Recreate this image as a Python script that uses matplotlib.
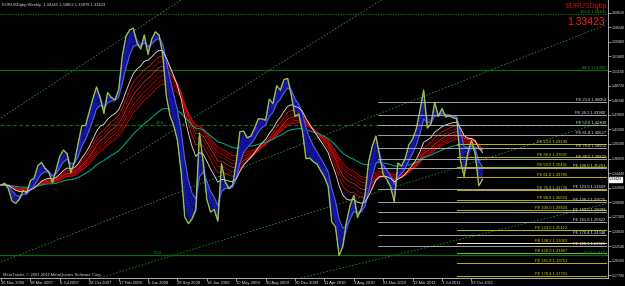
"""EURUSD weekly chart (MetaTrader look): price, GMMA-style ribbons, Fibo levels."""

import matplotlib
matplotlib.use("Agg")
import matplotlib.pyplot as plt
import numpy as np
import pandas as pd

plt.rcParams["font.family"] = ["Liberation Sans", "DejaVu Sans"]

# ---- data -----------------------------------------------------------------
# bar index = weeks since 26 Nov 2006, sampled every second week
bar_idx = np.arange(0, 264, 2)
close = [
    1.3250, 1.3280, 1.3190, 1.2990, 1.2950, 1.3020, 1.3160, 1.3120, 1.3320, 1.3360,
    1.3560, 1.3620, 1.3520, 1.3460, 1.3290, 1.3500, 1.3720, 1.3820, 1.3760, 1.3450,
    1.3630, 1.3930, 1.4220, 1.4220, 1.4440, 1.4660, 1.4850, 1.4670, 1.4420, 1.4760,
    1.4680, 1.4640, 1.4800, 1.5350, 1.5680, 1.5780, 1.5810, 1.5570, 1.5470, 1.5700,
    1.5380, 1.5630, 1.5750, 1.5700, 1.5380, 1.4700, 1.4380, 1.4220, 1.3980, 1.3470,
    1.2730, 1.2620, 1.2700, 1.2850, 1.4100, 1.3630, 1.3020, 1.2810, 1.2850, 1.2660,
    1.3600, 1.3300, 1.3190, 1.3250, 1.3620, 1.4120, 1.4130, 1.4020, 1.4050, 1.4180,
    1.4330, 1.4330, 1.4310, 1.4650, 1.4580, 1.4870, 1.4800, 1.4970, 1.4990, 1.4710,
    1.4370, 1.4410, 1.4130, 1.3680, 1.3690, 1.3630, 1.3590, 1.3480, 1.3380, 1.3230,
    1.2650, 1.2570, 1.2100, 1.2250, 1.2650, 1.2920, 1.3080, 1.2720, 1.2860, 1.3070,
    1.3620, 1.3880, 1.4050, 1.3730, 1.3420, 1.3340, 1.3220, 1.2980, 1.3610, 1.3560,
    1.3690, 1.3910, 1.4000, 1.4170, 1.4470, 1.4800, 1.4180, 1.4250, 1.4600, 1.4370,
    1.4500, 1.4360, 1.4380, 1.4350, 1.4330, 1.3650, 1.3390, 1.3770, 1.3980, 1.3760,
    1.3240, 1.3342,
]
last_price = 1.33423

date_ticks = np.arange(0, 257, 16)
date_labels = [
    "26 Nov 2006", "18 Mar 2007", "8 Jul 2007", "28 Oct 2007", "17 Feb 2008",
    "8 Jun 2008", "28 Sep 2008", "18 Jan 2009", "10 May 2009", "30 Aug 2009",
    "20 Dec 2009", "11 Apr 2010", "1 Aug 2010", "21 Nov 2010", "13 Mar 2011",
    "3 Jul 2011", "23 Oct 2011",
]
price_ticks = np.round(1.1778 + 0.0238 * np.arange(19), 4)

# EMA spans in weeks
short_spans = [3, 4, 5, 6, 8, 10]
long_spans = [30, 35, 40, 45, 50, 55, 60]
mid_span = 24
slow_span = 100

# Fibonacci expansion, grey (starts ~bar 205) and yellow (starts ~bar 248)
fe_grey_levels = ["23.6", "38.2", "50.0", "61.8", "76.4", "88.6", "100.0",
                  "123.6", "138.2", "150.0", "161.8", "176.4", "188.6"]
fe_grey_prices = [1.46054, 1.43980, 1.42304, 1.40627, 1.38553, 1.36820, 1.35201,
                  1.31849, 1.29775, 1.28099, 1.26422, 1.24348, 1.22615]
fe_yellow_levels = ["23.6", "38.2", "50.0", "61.8", "76.4", "88.6", "100.0",
                    "123.6", "138.2", "150.0", "161.8", "176.4"]
fe_yellow_prices = [1.39146, 1.37097, 1.35441, 1.33785, 1.31736, 1.30024, 1.28424,
                    1.25112, 1.23063, 1.21407, 1.19751, 1.17701]
fe_grey_start, fe_yellow_start, fe_end = 205, 248, 329

# Fibonacci retracement levels (full width, dark green)
fibo_levels = ["100.0", "88.6", "23.6", "50.0"]
fibo_prices = [1.60380, 1.51280, 1.42300, 1.21150]

# trend lines: (bar0, price0, bar1, price1)
trend_lines = [
    (0, 1.4345, 98, 1.6270),
    (0, 1.1994, 329, 1.5862),
    (65, 1.3600, 207, 1.6270),
    (54, 1.1733, 329, 1.4290),
    (163, 1.1733, 329, 1.2941),
]

# ---- indicators -----------------------------------------------------------
s = pd.Series(close, index=bar_idx)
ema = lambda weeks: s.ewm(span=max(weeks / 2, 1.0), adjust=False).mean().values
short_emas = np.array([ema(w) for w in short_spans])
long_emas = [ema(w) for w in long_spans]

# ---- figure ---------------------------------------------------------------
fig = plt.figure(figsize=(6.25, 2.86), dpi=100, facecolor="black")
ax = fig.add_axes([0, 8 / 286, 608 / 625, 278 / 286], facecolor="black")
ax.set_xlim(-0.54, 330.3)
ax.set_ylim(1.1733, 1.627)

green = "#0b6a0b"
for (b0, p0, b1, p1) in trend_lines:
    ax.plot([b0, b1], [p0, p1], color="#2f8a2f", lw=0.6, ls=(0, (2, 2)), zorder=1)

styles = [(0, (1, 1)), "-", (0, (3, 2)), "-"]
for lvl, pr, st in zip(fibo_levels, fibo_prices, styles):
    ax.axhline(pr, color=green, lw=0.9, ls=st, zorder=1)
ax.text(329, fibo_prices[0], f"{fibo_levels[0]} {fibo_prices[0]:.5f}", color="#1fa01f",
        fontsize=3, ha="right", va="bottom", zorder=6)
ax.text(329, fibo_prices[1], f"{fibo_levels[1]} {fibo_prices[1]:.5f}", color="#1fa01f",
        fontsize=3, ha="right", va="bottom", zorder=6)
ax.text(329, fibo_prices[3], f"{fibo_levels[3]} {fibo_prices[3]:.4f}", color="#1fa01f",
        fontsize=3, ha="right", va="bottom", zorder=6)
ax.text(84, fibo_prices[2], fibo_levels[2], color="#1fa01f", fontsize=3, va="bottom")
ax.text(83, fibo_prices[3], fibo_levels[3], color="#1fa01f", fontsize=3, va="bottom")

# slow ribbon
reds = ["#ff1010", "#c00000", "#ff3030", "#b00000", "#e00000", "#a00000", "#ff0000"]
for e, c in zip(long_emas, reds):
    ax.plot(bar_idx, e, color=c, lw=0.5, zorder=2)
ax.plot(bar_idx, ema(slow_span), color="#00a080", lw=0.8, zorder=2)

# fast ribbon
ax.fill_between(bar_idx, short_emas.min(axis=0), short_emas.max(axis=0),
                color="#0c0c80", lw=0, zorder=3)
for e in short_emas:
    ax.plot(bar_idx, e, color="#2828c8", lw=0.6, ls=(0, (1, 1)), zorder=3)
ax.plot(bar_idx, short_emas[-1], color="#4a5cff", lw=0.8, zorder=3)
ax.plot(bar_idx, ema(mid_span), color="#e8e8e8", lw=0.6, zorder=3)

# price
ax.plot(bar_idx, close, color="#9a9a9a", lw=1.2, alpha=0.5, zorder=4)
ax.plot(bar_idx, close, color="#e8e820", lw=0.6, zorder=4)
ax.plot(bar_idx, close, color="#40c040", lw=0.25, zorder=4)

# Fibonacci expansions
for lvl, pr in zip(fe_grey_levels, fe_grey_prices):
    ax.plot([fe_grey_start, fe_end], [pr, pr], color="#bdbdbd", lw=0.6, zorder=5)
    ax.text(329, pr, f"FE {lvl} {pr:.5f}", color="#dcdcdc", fontsize=3,
            ha="right", va="bottom", zorder=6)
yellow_cols = ["#b8b800"] * 8 + ["#f0f080", "#78b828", "#b8b800", "#b8b800"]
for lvl, pr, c in zip(fe_yellow_levels, fe_yellow_prices, yellow_cols):
    ax.plot([fe_yellow_start, fe_end], [pr, pr], color=c, lw=0.7, zorder=5)
    ax.text(308, pr, f"FE {lvl} {pr:.5f}", color="#d0d000", fontsize=3,
            ha="right", va="bottom", zorder=6)

# axes styling
for side in ("top", "left"):
    ax.spines[side].set_visible(False)
for side in ("right", "bottom"):
    ax.spines[side].set_color("#c8c8c8")
    ax.spines[side].set_linewidth(0.6)
ax.yaxis.tick_right()
ax.set_yticks(price_ticks)
ax.set_yticklabels([f"{v:.5f}" for v in price_ticks])
ax.tick_params(axis="y", colors="#c8c8c8", labelcolor="#e0e0e0", labelsize=2.6,
               length=2, width=0.5, pad=0.8)
ax.set_xticks(date_ticks)
ax.set_xticklabels(date_labels, ha="left")
ax.tick_params(axis="x", colors="#c8c8c8", labelcolor="#e0e0e0", labelsize=3,
               length=2, width=0.5, pad=0.5)

ax.text(330.9, last_price, f"{last_price:.5f}", color="black", fontsize=2.6,
        ha="left", va="center", clip_on=False, zorder=7,
        bbox=dict(boxstyle="square,pad=0.1", fc="white", ec="white"))

fig.text(2 / 625, 1 - 5 / 286, "EURUSDgbp,Weekly  1.34145 1.34852 1.32878 1.33423",
         color="#d8d8d8", fontsize=3, va="center")
fig.text(607 / 625, 1 - 6 / 286, "EURUSDgbp", color="#d01010", fontsize=5,
         ha="right", va="center")
fig.text(605 / 625, 1 - 22 / 286, f"{last_price:.5f}", color="#ff2020", fontsize=7.5,
         ha="right", va="center")
ax.text(1, 1.1755, "MetaTrader, \u00a9 2001-2011 MetaQuotes Software Corp.",
        color="#d0d0d0", fontsize=3, va="bottom")

fig.savefig("out.png", dpi=100, facecolor="black")
